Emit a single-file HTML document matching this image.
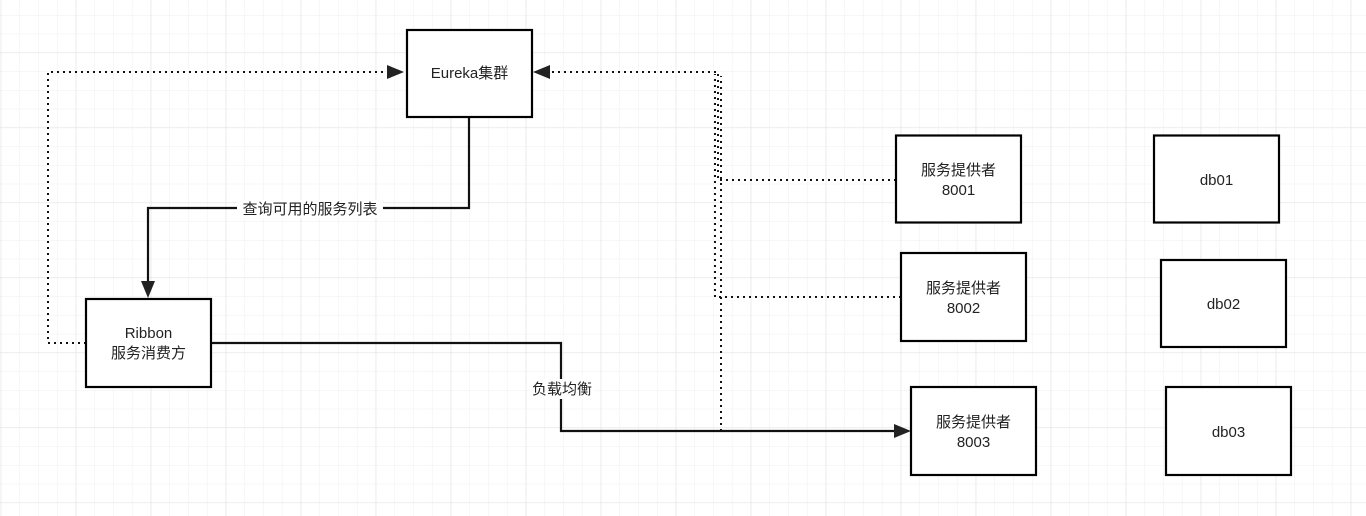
<!DOCTYPE html>
<html><head><meta charset="utf-8"><style>
html,body{margin:0;padding:0;background:#fff;}
svg{display:block}
text{font-family:"Liberation Sans","Noto Sans CJK SC",sans-serif;font-size:15px;fill:#222;}
</style></head><body>
<svg width="1366" height="516" xmlns="http://www.w3.org/2000/svg">
<defs>
<pattern id="minor" x="0.7" y="15" width="18.75" height="18.75" patternUnits="userSpaceOnUse">
<path d="M0 0H18.75M0 0V18.75" stroke="#efefef" stroke-width="1" fill="none"/>
</pattern>
<pattern id="major" x="0.7" y="52.5" width="75" height="75" patternUnits="userSpaceOnUse">
<path d="M0 0H75M0 0V75" stroke="#e2e2e2" stroke-width="1.2" fill="none"/>
</pattern>
</defs>
<rect width="1366" height="516" fill="url(#minor)"/>
<rect width="1366" height="516" fill="url(#major)"/>

<g fill="none" stroke="#111" stroke-width="2" stroke-dasharray="2 4">
<path d="M86 343H48V72H388"/>
<path d="M896 180H718V72H550"/>
<path d="M901 297H715V74"/>
<path d="M721 431V76"/>
<path d="M716 72H550"/>
</g>
<polygon points="404,72 387,65 387,79" fill="#222"/>
<polygon points="533,72 550,65 550,79" fill="#222"/>

<g fill="none" stroke="#111" stroke-width="2.2">
<path d="M469 117V208H148V282"/>
<path d="M211 343H561V431H894"/>
</g>
<polygon points="148,298 141,281 155,281" fill="#222"/>
<polygon points="911,431 894,424 894,438" fill="#222"/>

<rect x="237" y="200" width="146" height="18" fill="#fff"/>
<text x="310" y="214" text-anchor="middle">查询可用的服务列表</text>
<rect x="530" y="379" width="64" height="20" fill="#fff"/>
<text x="562" y="394" text-anchor="middle">负载均衡</text>

<g fill="#fff" stroke="#000" stroke-width="2.2">
<rect x="407" y="30" width="125" height="87"/>
<rect x="86" y="299" width="125" height="88"/>
<rect x="896" y="135.5" width="125" height="87"/>
<rect x="901" y="253" width="125" height="88"/>
<rect x="911" y="387" width="125" height="88"/>
<rect x="1154" y="135.5" width="125" height="87"/>
<rect x="1161" y="260" width="125" height="87"/>
<rect x="1166" y="387" width="125" height="88"/>
</g>
<text x="469.5" y="78" text-anchor="middle">Eureka集群</text>
<text x="148.5" y="338" text-anchor="middle">Ribbon</text>
<text x="148.5" y="358" text-anchor="middle">服务消费方</text>
<text x="958.5" y="175" text-anchor="middle">服务提供者</text>
<text x="958.5" y="195" text-anchor="middle">8001</text>
<text x="963.5" y="293" text-anchor="middle">服务提供者</text>
<text x="963.5" y="313" text-anchor="middle">8002</text>
<text x="973.5" y="427" text-anchor="middle">服务提供者</text>
<text x="973.5" y="447" text-anchor="middle">8003</text>
<text x="1216.5" y="185" text-anchor="middle">db01</text>
<text x="1223.5" y="309" text-anchor="middle">db02</text>
<text x="1228.5" y="437" text-anchor="middle">db03</text>
</svg>
</body></html>
